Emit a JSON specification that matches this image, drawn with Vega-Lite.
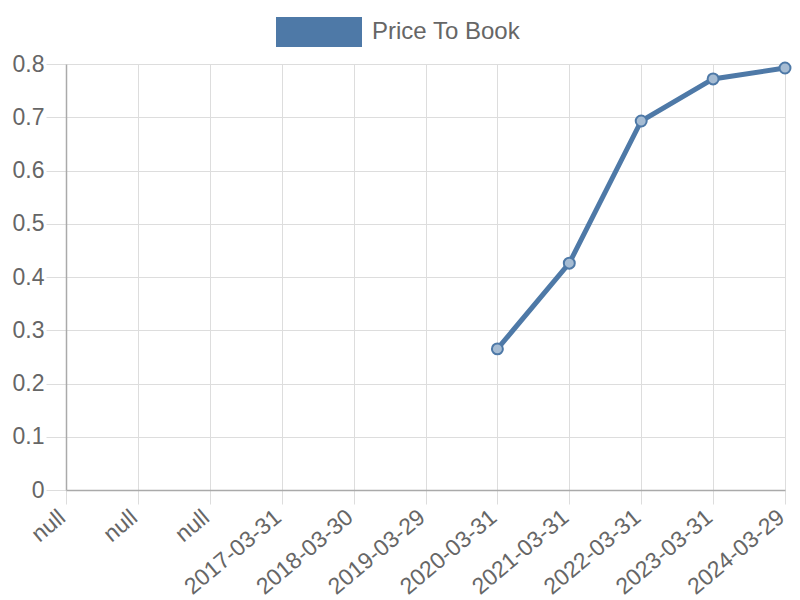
{
  "$schema": "https://vega.github.io/schema/vega-lite/v6.json",
  "autosize": "none",
  "width": 719,
  "height": 426,
  "padding": {"left": 66, "top": 64, "right": 15, "bottom": 110},
  "background": "white",
  "config": {
    "view": {"stroke": null},
    "font": "Liberation Sans"
  },
  "data": {
    "values": [
      {"date": "null#1", "series": "Price To Book", "value": null},
      {"date": "null#2", "series": "Price To Book", "value": null},
      {"date": "null#3", "series": "Price To Book", "value": null},
      {"date": "2017-03-31", "series": "Price To Book", "value": null},
      {"date": "2018-03-30", "series": "Price To Book", "value": null},
      {"date": "2019-03-29", "series": "Price To Book", "value": null},
      {"date": "2020-03-31", "series": "Price To Book", "value": 0.265},
      {"date": "2021-03-31", "series": "Price To Book", "value": 0.426},
      {"date": "2022-03-31", "series": "Price To Book", "value": 0.693},
      {"date": "2023-03-31", "series": "Price To Book", "value": 0.772},
      {"date": "2024-03-29", "series": "Price To Book", "value": 0.7925}
    ]
  },
  "encoding": {
    "x": {
      "field": "date",
      "type": "ordinal",
      "sort": null,
      "scale": {"type": "point", "padding": 0},
      "axis": {
        "title": null,
        "labelExpr": "indexof(datum.label, 'null') === 0 ? 'null' : datum.label",
        "labelAngle": -40,
        "labelAlign": "right",
        "labelBaseline": "middle",
        "labelFontSize": 23,
        "labelColor": "#666666",
        "labelPadding": 10,
        "labelOffset": -4,
        "labelOverlap": false,
        "labelBound": false,
        "tickSize": 14,
        "tickColor": "#dddddd",
        "grid": true,
        "gridColor": "#dddddd",
        "domainColor": "#aaaaaa",
        "domainWidth": 1.5
      }
    },
    "y": {
      "field": "value",
      "type": "quantitative",
      "scale": {"domain": [0, 0.8], "nice": false},
      "axis": {
        "title": null,
        "values": [0, 0.1, 0.2, 0.3, 0.4, 0.5, 0.6, 0.7, 0.8],
        "format": "~g",
        "labelFontSize": 23,
        "labelColor": "#666666",
        "labelPadding": 2,
        "labelOverlap": false,
        "tickSize": 20,
        "tickColor": "#dddddd",
        "gridColor": "#dddddd",
        "domainColor": "#aaaaaa",
        "domainWidth": 1.5
      }
    }
  },
  "layer": [
    {
      "mark": {"type": "line", "strokeWidth": 5, "color": "#4e79a7"},
      "encoding": {
        "color": {
          "field": "series",
          "type": "nominal",
          "scale": {"range": ["#4e79a7"]},
          "legend": {
            "title": null,
            "orient": "none",
            "legendX": 210,
            "legendY": -75,
            "symbolType": "M-1,-0.35H1V0.35H-1Z",
            "symbolSize": 7396,
            "symbolStrokeWidth": 0,
            "labelFontSize": 24,
            "labelColor": "#666666",
            "labelOffset": 10,
            "encode": {"symbols": {"update": {"fill": {"value": "#4e79a7"}, "strokeWidth": {"value": 0}}}}
          }
        }
      }
    },
    {
      "mark": {"type": "point", "filled": true, "size": 120, "fill": "#a6bcd3", "stroke": "#4e79a7", "strokeWidth": 2, "opacity": 1}
    }
  ]
}
